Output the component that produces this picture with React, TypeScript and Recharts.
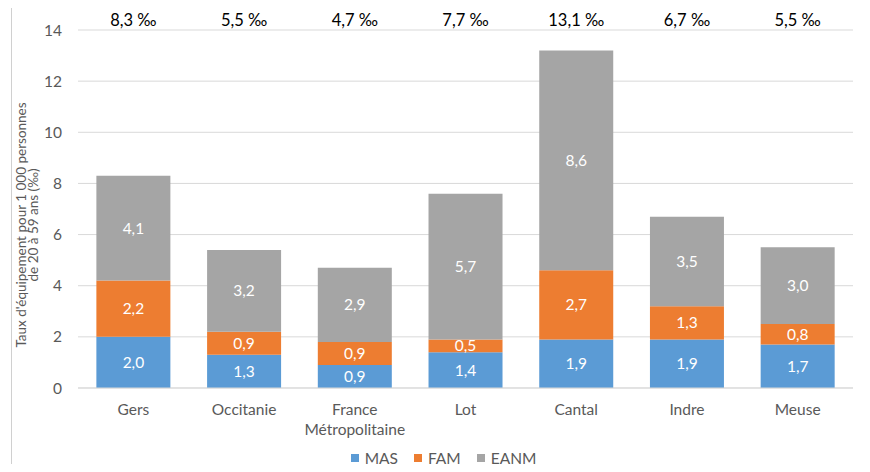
import React from 'react';
import { BarChart, Bar, XAxis, YAxis, CartesianGrid, LabelList } from 'recharts';

const categories = ['Gers', 'Occitanie', 'France Métropolitaine', 'Lot', 'Cantal', 'Indre', 'Meuse'];
const masValues = [2.0, 1.3, 0.9, 1.4, 1.9, 1.9, 1.7];
const famValues = [2.2, 0.9, 0.9, 0.5, 2.7, 1.3, 0.8];
const eanmValues = [4.1, 3.2, 2.9, 5.7, 8.6, 3.5, 3.0];
const totalValues = [8.3, 5.5, 4.7, 7.7, 13.1, 6.7, 5.5];
const yTicks = [0, 2, 4, 6, 8, 10, 12, 14];

const series = [
  { key: 'mas', name: 'MAS', color: '#5B9BD5' },
  { key: 'fam', name: 'FAM', color: '#ED7D31' },
  { key: 'eanm', name: 'EANM', color: '#A5A5A5' },
];

const data = categories.map((name, i) => ({
  name,
  mas: masValues[i],
  fam: famValues[i],
  eanm: eanmValues[i],
  total: totalValues[i],
}));

const FONT = 'Lato, "Open Sans", sans-serif';
const TEXT = '#595959';

const fmt = (v: any) => Number(v).toFixed(1).replace('.', ',');

// totals sit in a row above the plot, not on top of each bar
const TotalLabel = (props: any) => {
  const { x, width, value } = props;
  return (
    <text x={x + width / 2} y={20} textAnchor="middle" dominantBaseline="central"
      fontFamily={FONT} fontSize={16.5} fill="#000">
      {fmt(value)} ‰
    </text>
  );
};

const CategoryTick = (props: any) => {
  const { x, y, payload } = props;
  const lines = payload.value.length > 12 ? payload.value.split(' ') : [payload.value];
  return (
    <g>
      {lines.map((l: string, i: number) => (
        <text key={i} x={x} y={y + 13 + i * 20} textAnchor="middle" dominantBaseline="central"
          fontFamily={FONT} fontSize={15.5} fill={TEXT}>
          {l}
        </text>
      ))}
    </g>
  );
};

const YLabel = () => {
  const cy = 225;
  const lines = ["Taux d'équipement  pour 1 000 personnes", 'de 20 à 59 ans (‰)'];
  return (
    <g>
      {lines.map((l, i) => {
        const cx = 21 + i * 12;
        return (
          <text key={i} x={cx} y={cy} textAnchor="middle" dominantBaseline="central"
            transform={`rotate(-90 ${cx} ${cy})`} fontFamily={FONT} fontSize={13.5} fill={TEXT}>
            {l}
          </text>
        );
      })}
    </g>
  );
};

export default function App() {
  return (
    <div style={{ position: 'relative', width: 870, height: 472, margin: -8, overflow: 'hidden', background: '#fff' }}>
      <div style={{ position: 'absolute', left: 0, top: 0 }}>
        <BarChart width={870} height={472} data={data}
          margin={{ top: 30, right: 17, bottom: 44, left: 20 }} barCategoryGap="16.6%">
          <CartesianGrid vertical={false} stroke="#d9d9d9" />
          <XAxis dataKey="name" height={40} axisLine={{ stroke: '#d9d9d9' }} tickLine={false}
            tick={<CategoryTick />} interval={0} />
          <YAxis width={58} domain={[0, 14]} ticks={yTicks} axisLine={false} tickLine={false}
            tickMargin={10} tick={{ fill: TEXT, fontSize: 15.5, fontFamily: FONT }}
            label={{ content: YLabel }} />
          {series.map((s) => (
            <Bar key={s.key} dataKey={s.key} name={s.name} stackId="a" fill={s.color} isAnimationActive={false}>
              <LabelList dataKey={s.key} position="center" fill="#fff" fontSize={15.5}
                fontFamily={FONT} formatter={fmt} />
              {s.key === 'eanm' && <LabelList dataKey="total" content={TotalLabel} />}
            </Bar>
          ))}
        </BarChart>
      </div>
      {/* frame of the chart area and clipped title from the slide above */}
      <svg width={870} height={472} style={{ position: 'absolute', left: 0, top: 0, pointerEvents: 'none' }}>
        <rect x={11.5} y={7.5} width={854} height={500} fill="none" stroke="#d0d0d0" strokeWidth={1} />
        <text x={78} y={3} fontFamily={FONT} fontWeight="bold" fontSize={22} fill="#262626"
          textLength={514} lengthAdjust="spacingAndGlyphs">
          (pour 1 000 habitants de 20 à 59 ans)
        </text>
      </svg>
      <div style={{ position: 'absolute', top: 449, left: 0, width: 870, display: 'flex', justifyContent: 'center',
        paddingLeft: 17, boxSizing: 'border-box', fontFamily: FONT, fontSize: 15.5, color: TEXT }}>
        {series.map((s, i) => (
          <div key={s.key} style={{ display: 'flex', alignItems: 'center', marginLeft: i ? 16 : 0 }}>
            <span style={{ width: 8, height: 8, background: s.color, marginRight: 6, display: 'inline-block' }} />
            <span>{s.name}</span>
          </div>
        ))}
      </div>
    </div>
  );
}
